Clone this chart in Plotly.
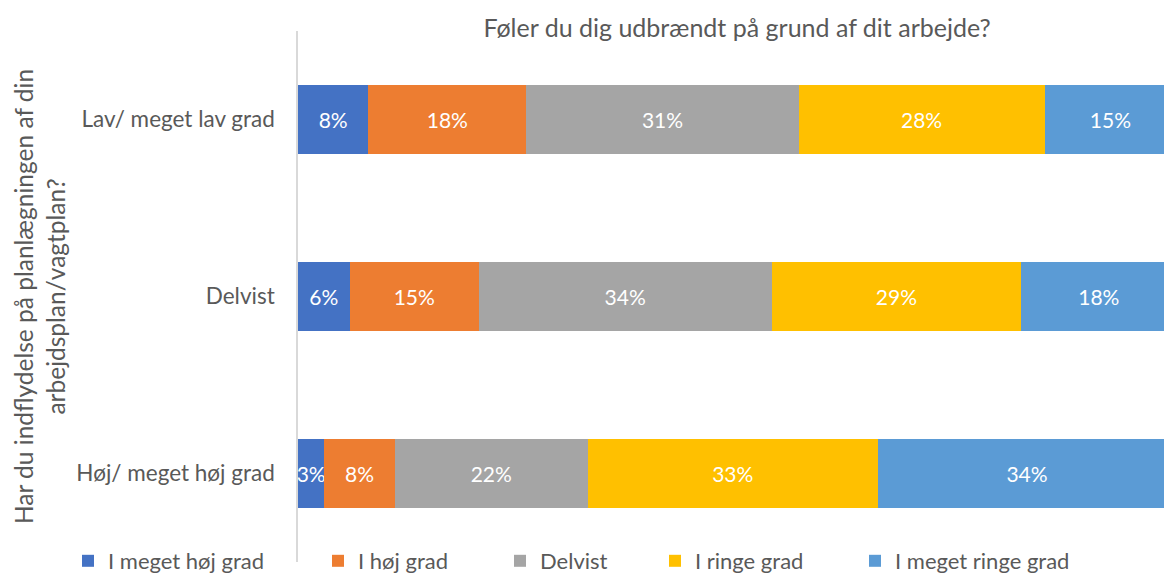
import plotly.graph_objects as go

categories = ["Lav/ meget lav grad", "Delvist", "Høj/ meget høj grad"]
series_names = ["I meget høj grad", "I høj grad", "Delvist", "I ringe grad", "I meget ringe grad"]
colors = ["#4472C4", "#ED7D31", "#A5A5A5", "#FFC000", "#5B9BD5"]

s_meget_hoej = [8, 6, 3]
s_hoej = [18, 15, 8]
s_delvist = [31, 34, 22]
s_ringe = [28, 29, 33]
s_meget_ringe = [15, 18, 34]
series_values = [s_meget_hoej, s_hoej, s_delvist, s_ringe, s_meget_ringe]

title_text = "Føler du dig udbrændt på grund af dit arbejde?"
y_title = "Har du indflydelse på planlægningen af din<br>arbejdsplan/vagtplan?"

FONT = "Lato"
GRAY = "#595959"
W, H = 1164, 575

# left edge (px) of each legend entry
legend_left_px = [68, 318, 500, 655, 855]
legend_ids = ["legend", "legend2", "legend3", "legend4", "legend5"]

fig = go.Figure()
for name, vals, col, lid in zip(series_names, series_values, colors, legend_ids):
    fig.add_trace(go.Bar(
        y=categories, x=vals, name=name, orientation="h", legend=lid,
        showlegend=True,
        marker=dict(color=col, line=dict(width=0)),
        text=[f"{v}%" for v in vals], textposition="inside",
        insidetextanchor="middle", textangle=0,
        textfont=dict(color="white", size=21, family=FONT),
        constraintext="none",
    ))

legend_layouts = {}
for lid, px in zip(legend_ids, legend_left_px):
    legend_layouts[lid] = dict(
        orientation="h", xref="container", x=px / W, xanchor="left",
        yref="container", y=14 / H, yanchor="middle",
        font=dict(size=22, color=GRAY, family=FONT),
        itemwidth=30, bgcolor="rgba(0,0,0,0)",
    )

fig.update_layout(
    barmode="stack", barnorm="percent",
    width=W, height=H, showlegend=True,
    margin=dict(l=298, r=0, t=31, b=13, autoexpand=False),
    paper_bgcolor="white", plot_bgcolor="white",
    bargap=0.605,
    font=dict(family=FONT, color=GRAY, size=22),
    title=dict(text=title_text, x=0.507, xref="paper", xanchor="center",
               y=1 - 28 / H, yref="container", yanchor="middle",
               font=dict(size=25, color=GRAY, family=FONT)),
    xaxis=dict(range=[0, 98.6], showgrid=False, zeroline=False,
               showticklabels=False, showline=False, fixedrange=True,
               automargin=False),
    yaxis=dict(categoryorder="array", categoryarray=categories,
               autorange="reversed", showgrid=False, zeroline=False,
               showline=True, linecolor="#D9D9D9", linewidth=1.5,
               ticks="", ticklabelstandoff=17, automargin=False,
               tickfont=dict(size=22.5, color=GRAY, family=FONT),
               title=dict(text=y_title, standoff=4,
                          font=dict(size=24.5, color=GRAY, family=FONT))),
    **legend_layouts,
)

fig.write_html(
    "out.html",
    config={"displayModeBar": False},
    post_script="document.body.style.margin='0';document.body.style.overflow='hidden';",
)
